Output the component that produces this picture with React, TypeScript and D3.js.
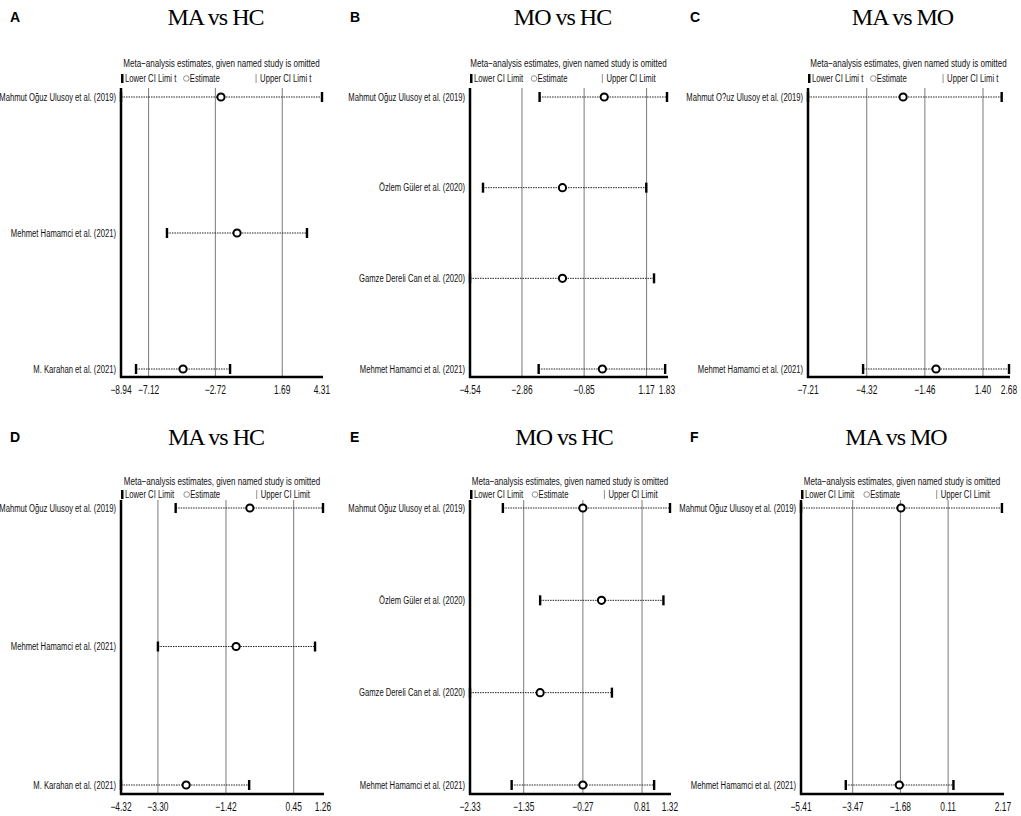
import * as d3 from "d3";

// panel A  MA vs HC
const studiesA = ["Mahmut Oğuz Ulusoy et al. (2019)", "Mehmet Hamamci et al. (2021)", "M. Karahan et al. (2021)"];
const lowerA = [-8.94, -5.91, -7.95];
const estimateA = [-2.35, -1.29, -4.85];
const upperA = [4.31, 3.32, -1.75];
const ticksA = [-8.94, -7.12, -2.72, 1.69, 4.31];

// panel B  MO vs HC
const studiesB = ["Mahmut Oğuz Ulusoy et al. (2019)", "Özlem Güler et al. (2020)", "Gamze Dereli Can et al. (2020)", "Mehmet Hamamci et al. (2021)"];
const lowerB = [-2.29, -4.12, -4.54, -2.32];
const estimateB = [-0.2, -1.55, -1.55, -0.26];
const upperB = [1.83, 1.16, 1.41, 1.77];
const ticksB = [-4.54, -2.86, -0.85, 1.17, 1.83];

// panel C  MA vs MO
const studiesC = ["Mahmut O?uz Ulusoy et al. (2019)", "Mehmet Hamamci et al. (2021)"];
const lowerC = [-7.21, -4.5];
const estimateC = [-2.53, -0.91];
const upperC = [2.32, 2.68];
const ticksC = [-7.21, -4.32, -1.46, 1.4, 2.68];

// panel D  MA vs HC
const studiesD = ["Mahmut Oğuz Ulusoy et al. (2019)", "Mehmet Hamamci et al. (2021)", "M. Karahan et al. (2021)"];
const lowerD = [-2.81, -3.3, -4.32];
const estimateD = [-0.76, -1.14, -2.52];
const upperD = [1.26, 1.04, -0.78];
const ticksD = [-4.32, -3.3, -1.42, 0.45, 1.26];

// panel E  MO vs HC
const studiesE = ["Mahmut Oğuz Ulusoy et al. (2019)", "Özlem Güler et al. (2020)", "Gamze Dereli Can et al. (2020)", "Mehmet Hamamci et al. (2021)"];
const lowerE = [-1.73, -1.05, -2.33, -1.57];
const estimateE = [-0.27, 0.07, -1.05, -0.27];
const upperE = [1.32, 1.2, 0.26, 1.03];
const ticksE = [-2.33, -1.35, -0.27, 0.81, 1.32];

// panel F  MA vs MO
const studiesF = ["Mahmut Oğuz Ulusoy et al. (2019)", "Mehmet Hamamci et al. (2021)"];
const lowerF = [-5.41, -3.73];
const estimateF = [-1.66, -1.72];
const upperF = [2.13, 0.31];
const ticksF = [-5.41, -3.47, -1.68, 0.11, 2.17];

const legendShort = ["Lower CI Limi t", "Estimate", "Upper CI Limi t"];
const legendFull = ["Lower CI Limit", "Estimate", "Upper CI Limit"];

const sans = "'Liberation Sans', Arial, sans-serif";
const serif = "'Liberation Serif', 'DejaVu Serif', serif";
const fmt = d3.format(".2f");

// the reference uses a condensed face; squeeze a regular sans horizontally
function NText(props: { x: number; y: number; anchor?: string; size?: number; sx?: number; children: React.ReactNode }) {
  const { x, y, anchor = "start", size = 11, sx = 0.7, children } = props;
  return (
    <text
      transform={`translate(${x},${y}) scale(${sx},1)`}
      textAnchor={anchor}
      fontFamily={sans}
      fontSize={size}
      fill="#111"
    >
      {children}
    </text>
  );
}

interface Layout {
  titleY: number;
  legTitleY: number;
  legItemY: number;
  plotTop: number;
  rowTop: number;
  rowBottom: number;
  axisY: number;
}

const topRow: Layout = { titleY: 25, legTitleY: 67, legItemY: 82, plotTop: 88, rowTop: 97, rowBottom: 369, axisY: 377 };
const bottomRow: Layout = { titleY: 445, legTitleY: 485, legItemY: 498, plotTop: 500, rowTop: 508, rowBottom: 785, axisY: 794 };

interface PanelProps {
  letter: string;
  title: string;
  studies: string[];
  lower: number[];
  estimate: number[];
  upper: number[];
  ticks: number[];
  legend: string[];
  colX: number;
  plotLeft: number;
  plotRight: number;
  lay: Layout;
}

function Panel(p: PanelProps) {
  const L = p.lay;
  const x = d3
    .scaleLinear()
    .domain([p.ticks[0], p.ticks[p.ticks.length - 1]])
    .range([p.plotLeft, p.plotRight]);
  const y = d3.scalePoint<string>().domain(p.studies).range([L.rowTop, L.rowBottom]);
  const rows = p.studies.map((name, i) => ({
    name,
    lower: p.lower[i],
    estimate: p.estimate[i],
    upper: p.upper[i],
  }));
  const cx = (p.plotLeft + p.plotRight) / 2;
  const w = p.plotRight - p.plotLeft;
  const legY = L.legItemY;
  const estX = p.plotLeft + w * 0.325;
  const upX = p.plotLeft + w * 0.672;

  return (
    <g>
      <text x={p.colX + 10} y={L.titleY - 3} fontFamily={sans} fontWeight="bold" fontSize={14}>
        {p.letter}
      </text>
      <text x={cx - 6} y={L.titleY} textAnchor="middle" fontFamily={serif} fontSize={24} letterSpacing={-1}>
        {p.title}
      </text>

      {/* legend */}
      <NText x={cx} y={L.legTitleY} anchor="middle" size={11} sx={0.73}>
        Meta−analysis estimates, given named study is omitted
      </NText>
      <rect x={p.plotLeft} y={legY - 8} width={2.5} height={9} fill="#000" />
      <NText x={p.plotLeft + 4} y={legY}>{p.legend[0]}</NText>
      <circle cx={estX} cy={legY - 3.5} r={2.8} fill="none" stroke="#777" strokeWidth={0.8} />
      <NText x={estX + 3.5} y={legY}>{p.legend[1]}</NText>
      <line x1={upX} x2={upX} y1={legY - 8} y2={legY + 1} stroke="#777" strokeWidth={0.8} />
      <NText x={upX + 4} y={legY}>{p.legend[2]}</NText>

      {/* grid lines at interior ticks */}
      {p.ticks.slice(1, -1).map((t) => (
        <line key={t} x1={x(t)} x2={x(t)} y1={L.plotTop} y2={L.axisY} stroke="#7a7a7a" strokeWidth={1} />
      ))}

      {/* rows */}
      {rows.map((r) => {
        const yy = y(r.name) as number;
        return (
          <g key={r.name}>
            <NText x={p.plotLeft - 5} y={yy + 3.5} anchor="end" size={10.8} sx={0.71}>
              {r.name}
            </NText>
            <line x1={x(r.lower)} x2={x(r.upper)} y1={yy} y2={yy} stroke="#222" strokeWidth={1} strokeDasharray="1.5,1" />
            <rect x={x(r.lower) - 1.2} y={yy - 5} width={2.4} height={10} fill="#000" />
            <rect x={x(r.upper) - 1.2} y={yy - 5} width={2.4} height={10} fill="#000" />
            <circle cx={x(r.estimate)} cy={yy} r={3.6} fill="#fff" stroke="#000" strokeWidth={2} />
          </g>
        );
      })}

      {/* axes */}
      <line x1={p.plotLeft} x2={p.plotLeft} y1={L.plotTop} y2={L.axisY + 1} stroke="#000" strokeWidth={2.5} />
      <line x1={p.plotLeft - 1} x2={p.plotRight + 1} y1={L.axisY} y2={L.axisY} stroke="#000" strokeWidth={2.5} />
      {p.ticks.map((t) => (
        <NText key={t} x={x(t)} y={L.axisY + 17} anchor="middle" size={12} sx={0.7}>
          {fmt(t)}
        </NText>
      ))}
    </g>
  );
}

export default function App() {
  return (
    <svg
      width={1021}
      height={816}
      viewBox="0 0 1021 816"
      style={{ position: "absolute", left: 0, top: 0, background: "#fff" }}
    >
      <rect width={1021} height={816} fill="#fff" />
      <Panel letter="A" title="MA vs HC" studies={studiesA} lower={lowerA} estimate={estimateA} upper={upperA} ticks={ticksA} legend={legendShort} colX={0} plotLeft={121} plotRight={322} lay={topRow} />
      <Panel letter="B" title="MO vs HC" studies={studiesB} lower={lowerB} estimate={estimateB} upper={upperB} ticks={ticksB} legend={legendFull} colX={340} plotLeft={470} plotRight={667} lay={topRow} />
      <Panel letter="C" title="MA vs MO" studies={studiesC} lower={lowerC} estimate={estimateC} upper={upperC} ticks={ticksC} legend={legendShort} colX={680} plotLeft={808} plotRight={1009} lay={topRow} />
      <Panel letter="D" title="MA vs HC" studies={studiesD} lower={lowerD} estimate={estimateD} upper={upperD} ticks={ticksD} legend={legendFull} colX={0} plotLeft={121} plotRight={323} lay={bottomRow} />
      <Panel letter="E" title="MO vs HC" studies={studiesE} lower={lowerE} estimate={estimateE} upper={upperE} ticks={ticksE} legend={legendFull} colX={340} plotLeft={470} plotRight={670} lay={bottomRow} />
      <Panel letter="F" title="MA vs MO" studies={studiesF} lower={lowerF} estimate={estimateF} upper={upperF} ticks={ticksF} legend={legendFull} colX={680} plotLeft={801} plotRight={1003} lay={bottomRow} />
    </svg>
  );
}
